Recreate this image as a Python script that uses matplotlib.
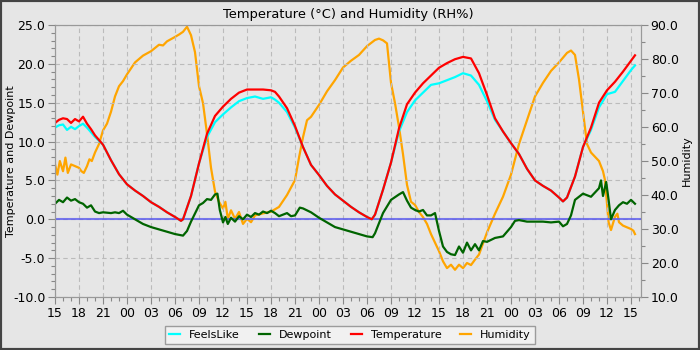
import matplotlib
matplotlib.use("Agg")
import matplotlib.pyplot as plt
from matplotlib.patches import Rectangle
from matplotlib.ticker import MultipleLocator, FixedLocator, FixedFormatter

# hours since 15:00 on the first day
tick_hours = list(range(0, 73, 3))
tick_labels = ["15", "18", "21", "00", "03", "06", "09", "12",
               "15", "18", "21", "00", "03", "06", "09", "12",
               "15", "18", "21", "00", "03", "06", "09", "12", "15"]

t_hours = [0, 0.5, 1, 1.5, 2, 2.5, 3, 3.5, 4, 4.5, 5, 6, 7, 8, 9, 10, 11, 12, 13, 14,
           15, 15.75, 16, 17, 18, 19, 20, 21, 22, 23, 24, 25, 26, 27, 27.5, 28, 29, 30,
           31, 32, 33, 34, 35, 36, 37, 38, 39, 39.6, 40, 41, 42, 43, 44, 45, 46, 47, 48,
           49, 50, 51, 52, 53, 54, 55, 56, 57, 58, 59, 60, 61, 62, 63, 63.5, 64, 65, 66,
           67, 68, 69, 70, 71, 72, 72.5]
temperature = [12.4, 12.8, 13.0, 12.9, 12.4, 12.9, 12.6, 13.2, 12.3, 11.6, 10.8, 9.6,
               7.6, 5.8, 4.5, 3.7, 3.0, 2.2, 1.6, 0.9, 0.3, -0.2, 0.0, 3.0, 7.2, 11.0,
               13.3, 14.5, 15.5, 16.3, 16.7, 16.7, 16.7, 16.6, 16.4, 15.8, 14.3, 12.0,
               9.3, 7.0, 5.7, 4.3, 3.2, 2.4, 1.6, 0.9, 0.3, 0.0, 0.6, 3.8, 7.3, 11.7,
               14.8, 16.3, 17.5, 18.5, 19.5, 20.1, 20.6, 20.9, 20.7, 18.8, 16.0, 13.0,
               11.3, 9.8, 8.4, 6.5, 5.0, 4.3, 3.7, 2.8, 2.3, 2.8, 5.5, 9.3, 11.8, 15.0,
               16.6, 17.7, 19.0, 20.4, 21.1]
feelslike = [11.8, 12.1, 12.2, 11.5, 11.9, 11.6, 12.0, 12.3, 11.8, 11.2, 10.6, 9.6,
             7.6, 5.8, 4.5, 3.7, 3.0, 2.2, 1.6, 0.9, 0.3, -0.2, 0.0, 3.0, 7.2, 10.6,
             12.5, 13.5, 14.4, 15.2, 15.6, 15.8, 15.5, 15.7, 15.4, 15.0, 13.8, 11.8,
             9.3, 7.0, 5.7, 4.3, 3.2, 2.4, 1.6, 0.9, 0.3, 0.0, 0.6, 3.8, 7.3, 11.3,
             13.8, 15.3, 16.3, 17.3, 17.5, 17.9, 18.3, 18.8, 18.5, 17.3, 15.2, 12.8,
             11.3, 9.8, 8.4, 6.5, 5.0, 4.3, 3.7, 2.8, 2.3, 2.8, 5.5, 9.3, 11.5, 14.4,
             16.1, 16.4, 17.8, 19.2, 19.8]

dew_hours = [0, 0.5, 1, 1.5, 2, 2.5, 3, 3.5, 4, 4.5, 5, 5.5, 6, 7, 7.5, 8, 8.5, 9, 10,
             11, 12, 13, 14, 15, 16, 16.5, 17, 18, 18.5, 19, 19.5, 20, 20.3, 20.6, 21,
             21.3, 21.6, 22, 22.5, 23, 23.5, 24, 24.5, 25, 25.5, 26, 26.5, 27, 27.5, 28,
             28.5, 29, 29.5, 30, 30.6, 31, 32, 33, 34, 35, 36, 37, 38, 39, 39.7, 40, 41,
             42, 43, 43.5, 44, 44.5, 45, 45.5, 46, 46.5, 47, 47.5, 48, 48.5, 49, 49.5,
             50, 50.5, 51, 51.5, 52, 52.5, 53, 53.5, 54, 55, 56, 57, 57.5, 58, 59, 60,
             61, 62, 63, 63.5, 64, 64.5, 65, 66, 67, 68, 68.25, 68.5, 68.9, 69.2, 69.5,
             70, 70.5, 71, 71.5, 72, 72.5]
dewpoint = [2.0, 2.5, 2.2, 2.8, 2.4, 2.6, 2.2, 2.0, 1.5, 1.8, 1.0, 0.8, 0.9, 0.8, 0.9,
            0.8, 1.1, 0.6, 0.0, -0.6, -1.0, -1.3, -1.6, -1.9, -2.1, -1.5, -0.3, 1.8,
            2.1, 2.6, 2.5, 3.2, 3.3, 1.2, -0.4, 0.3, -0.6, 0.2, -0.3, 0.4, 0.0, 0.6,
            0.3, 0.8, 0.6, 1.0, 0.8, 1.1, 0.8, 0.4, 0.6, 0.8, 0.4, 0.5, 1.5, 1.4, 0.9,
            0.2, -0.4, -1.0, -1.3, -1.6, -1.9, -2.2, -2.3, -1.8, 0.8, 2.5, 3.2, 3.5,
            2.4, 1.5, 1.2, 1.0, 1.2, 0.5, 0.5, 0.8, -1.5, -3.5, -4.2, -4.5, -4.6, -3.5,
            -4.3, -3.0, -4.0, -3.2, -4.0, -2.8, -2.9, -2.4, -2.2, -1.0, -0.2, -0.1,
            -0.3, -0.3, -0.3, -0.4, -0.3, -0.9, -0.6, 0.5, 2.5, 3.3, 2.9, 4.0, 5.0, 3.0,
            4.8, 2.5, 0.0, 1.2, 1.8, 2.2, 2.0, 2.5, 2.0]

hum_hours = [0, 0.3, 0.6, 1, 1.3, 1.6, 2, 2.5, 3, 3.3, 3.6, 4, 4.3, 4.6, 5, 5.5, 6, 6.5,
             7, 7.5, 8, 8.5, 9, 10, 11, 12, 13, 13.5, 14, 15, 15.5, 16, 16.5, 17, 17.5,
             18, 18.5, 19, 19.5, 20, 20.5, 21, 21.3, 21.6, 22, 22.5, 23, 23.5, 24, 24.5,
             25, 26, 27, 28, 29, 30, 30.5, 31, 31.5, 32, 33, 34, 35, 36, 37, 38, 39, 40,
             40.5, 41, 41.5, 42, 42.5, 43, 43.5, 44, 44.5, 45, 45.5, 46, 46.5, 47, 47.5,
             48, 48.5, 49, 49.5, 50, 50.5, 51, 51.5, 52, 52.5, 53, 54, 55, 56, 57, 58,
             59, 60, 61, 62, 63, 64, 64.5, 65, 65.5, 66, 66.5, 67, 68, 68.5, 68.75, 69.2,
             69.5, 70, 70.3, 70.5, 71, 71.5, 72, 72.3, 72.5]
humidity = [49, 46, 50, 47, 51, 46.5, 49, 48.5, 48, 47, 46.5, 48.5, 50.5, 50, 52.5, 55,
            59, 61, 64.5, 69, 72, 73.5, 75.5, 79, 81, 82.3, 84.2, 84.0, 85.2, 86.5, 87.2,
            88, 89.5, 87, 82, 72, 67, 58, 48, 41, 38, 36, 38, 33, 35.5, 33, 35, 31.5,
            33, 32, 34, 34.6, 35.1, 36.5, 40, 44.4, 51, 57, 62, 63, 66.5, 70.5, 73.8,
            77.5, 79.5, 81.2, 83.8, 85.6, 86.0, 85.5, 84.6, 73, 67, 60, 52, 43, 38, 37.1,
            35, 33.5, 31.5, 28.5, 26, 23.5, 20.5, 18.5, 19.5, 18.0, 19.5, 18.5, 20, 19.4,
            21, 22.5, 29, 34.5, 39.5, 46, 55, 62, 69, 73, 76.5, 79, 81.8, 82.5, 81.2, 74,
            64.5, 55, 52.5, 50, 47, 44.4, 32, 29.7, 33.6, 34.5, 32, 31, 30.5, 30, 29.5,
            28.5]

bg = "#e6e6e6"
fig = plt.figure(figsize=(7, 3.5), dpi=100, facecolor=bg)
ax = fig.add_axes([0.0786, 0.1514, 0.8371, 0.7771])
ax2 = ax.twinx()
ax2.set_facecolor(bg)
ax.set_zorder(ax2.get_zorder() + 1)
ax.patch.set_visible(False)

ax2.plot(hum_hours, humidity, color="#ffa500", lw=1.6, label="Humidity")
ax.axhline(0, color="#5a5aee", lw=1.5, alpha=0.8)
ax.plot(dew_hours, dewpoint, color="#006400", lw=1.6, label="Dewpoint")
ax.plot(t_hours, feelslike, color="#00ffff", lw=1.6, label="FeelsLike")
ax.plot(t_hours, temperature, color="#ff0000", lw=1.6, label="Temperature")

ax.set_xlim(0, 73.25)
ax.set_ylim(-10, 25)
ax2.set_ylim(10, 90)
ax.xaxis.set_major_locator(FixedLocator(tick_hours))
ax.xaxis.set_major_formatter(FixedFormatter(tick_labels))
ax.xaxis.set_minor_locator(MultipleLocator(1))
ax.yaxis.set_major_locator(MultipleLocator(5))
ax.yaxis.set_minor_locator(MultipleLocator(1))
ax.yaxis.set_major_formatter(lambda v, p: f"{v:.1f}")
ax2.yaxis.set_major_locator(MultipleLocator(10))
ax2.yaxis.set_minor_locator(MultipleLocator(5))
ax2.yaxis.set_major_formatter(lambda v, p: f"{v:.1f}")

for a in (ax, ax2):
    a.tick_params(which="major", length=5, width=0.8, color="#888888", labelsize=9, pad=2)
    a.tick_params(which="minor", length=3, width=0.8, color="#888888")
    for s in a.spines.values():
        s.set_color("#999999")
ax.grid(True, which="major", color="#bbbbbb", ls=(0, (4, 3)), lw=0.8)

ax.set_title("Temperature (°C) and Humidity (RH%)", fontsize=9.4, pad=5)
ax.set_ylabel("Temperature and Dewpoint", fontsize=8)
ax.yaxis.set_label_coords(-0.066, 0.5)
ax2.set_ylabel("Humidity", fontsize=8)
ax2.yaxis.set_label_coords(1.07, 0.5)

h1, l1 = ax.get_legend_handles_labels()
h2, l2 = ax2.get_legend_handles_labels()
handles = dict(zip(l1 + l2, h1 + h2))
order = ["FeelsLike", "Dewpoint", "Temperature", "Humidity"]
leg = fig.legend([handles[k] for k in order], order, loc="lower center",
                 bbox_to_anchor=(0.5, 0.0), ncol=4, fontsize=8, fancybox=False,
                 handlelength=1.0, columnspacing=1.7, borderpad=0.4)
leg.get_frame().set_facecolor("#f4f4f4")
leg.get_frame().set_edgecolor("#888888")

fig.patches.append(Rectangle((0, 0), 1, 1, transform=fig.transFigure, fill=False,
                             edgecolor="#444444", lw=3))

fig.savefig("out.png", dpi=100, facecolor=bg)
